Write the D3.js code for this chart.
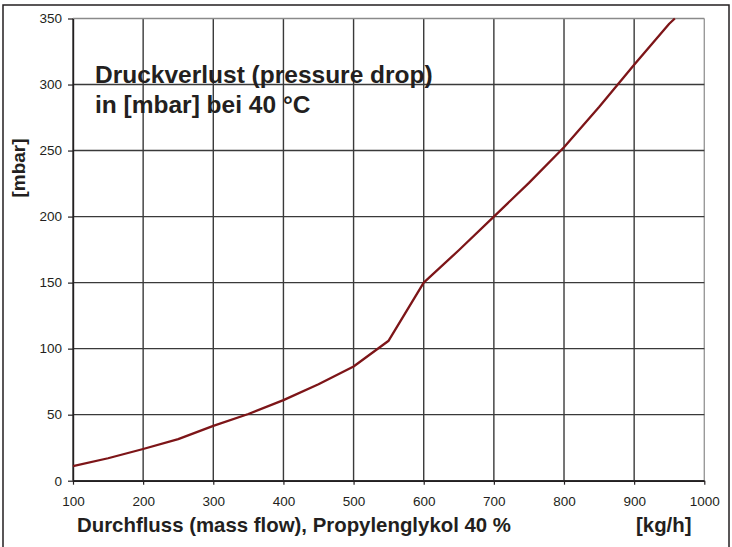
<!DOCTYPE html>
<html>
<head>
<meta charset="utf-8">
<script src="https://cdn.jsdelivr.net/npm/d3@7"></script>
<style>
  body { margin:0; background:#fff; }
  text { font-family: "Liberation Sans", Arial, sans-serif; fill:#231f20; }
</style>
</head>
<body>
<div id="chart-area"></div>
<script>
// mass flow [kg/h] and pressure drop [mbar]
const flow = [100,150,200,250,300,350,400,450,500,550,600,650,700,750,800,850,900,950,958];
const drop = [11,17,24,31.5,41.5,50.5,61,73,86.5,106,150,174.5,200,225.5,252.5,283,315,346,350];
const xTicks = [100,200,300,400,500,600,700,800,900,1000];
const yTicks = [0,50,100,150,200,250,300,350];

const W=732, H=547;
const margin={left:73, right:28, top:18.5, bottom:66};
const width=704.3-margin.left;
const height=480.7-margin.top;

const svg=d3.select('#chart-area').append('svg')
    .attr('width',W)
    .attr('height',H);

// outer frame
svg.append('rect')
    .attr('x',3).attr('y',5)
    .attr('width',726).attr('height',560)
    .attr('fill','none')
    .attr('stroke','#231f20')
    .attr('stroke-width',1.5);

const g=svg.append('g')
    .attr('transform','translate('+margin.left+','+margin.top+')');

const x=d3.scaleLinear().domain([100,1000]).range([0,width]);
const y=d3.scaleLinear().domain([0,350]).range([height,0]);

// grid
g.selectAll('.vgrid').data(xTicks).enter().append('line')
    .attr('x1',d=>x(d)).attr('x2',d=>x(d))
    .attr('y1',0).attr('y2',height)
    .attr('stroke',d=>d==1000?'#9a9a9a':'#3a3a3a')
    .attr('stroke-width',1.4);
g.selectAll('.hgrid').data(yTicks).enter().append('line')
    .attr('x1',0).attr('x2',width)
    .attr('y1',d=>y(d)).attr('y2',d=>y(d))
    .attr('stroke',d=>d==350?'#8a8a8a':'#3a3a3a')
    .attr('stroke-width',1.4);

// axes
const xAxis=g.append('g')
    .attr('transform','translate(0,'+height+')')
    .call(d3.axisBottom(x).tickValues(xTicks).tickFormat(d3.format('d'))
        .tickSize(4).tickPadding(12).tickSizeOuter(0));
const yAxis=g.append('g')
    .call(d3.axisLeft(y).tickValues(yTicks).tickSize(5).tickPadding(6).tickSizeOuter(0));
[xAxis,yAxis].forEach(a=>{
    a.select('.domain').attr('stroke','#231f20').attr('stroke-width',1.4);
    a.selectAll('.tick line').attr('stroke','#231f20').attr('stroke-width',1.2);
    a.selectAll('.tick text')
        .attr('font-family','"Liberation Sans", Arial, sans-serif')
        .attr('font-size','13.5px')
        .attr('fill','#231f20');
});

// curve
const pts=flow.map((f,i)=>[f,drop[i]]);
g.append('path')
    .datum(pts)
    .attr('fill','none')
    .attr('stroke','#7d1518')
    .attr('stroke-width',2.3)
    .attr('stroke-linejoin','round')
    .attr('d',d3.line().x(d=>x(d[0])).y(d=>y(d[1])));

// titles
svg.append('text')
    .attr('x',95).attr('y',83)
    .attr('font-size','24.5px').attr('font-weight',700)
    .text('Druckverlust (pressure drop)');
svg.append('text')
    .attr('x',95).attr('y',113)
    .attr('font-size','24.5px').attr('font-weight',700)
    .text('in [mbar] bei 40 °C');

svg.append('text')
    .attr('x',77).attr('y',532)
    .attr('font-size','20.4px').attr('font-weight',700)
    .text('Durchfluss (mass flow), Propylenglykol 40 %');
svg.append('text')
    .attr('x',636).attr('y',532)
    .attr('font-size','20.4px').attr('font-weight',700)
    .text('[kg/h]');

svg.append('text')
    .attr('transform','translate(25,168) rotate(-90)')
    .attr('text-anchor','middle')
    .attr('font-size','19px').attr('font-weight',700)
    .text('[mbar]');
</script>
</body>
</html>
